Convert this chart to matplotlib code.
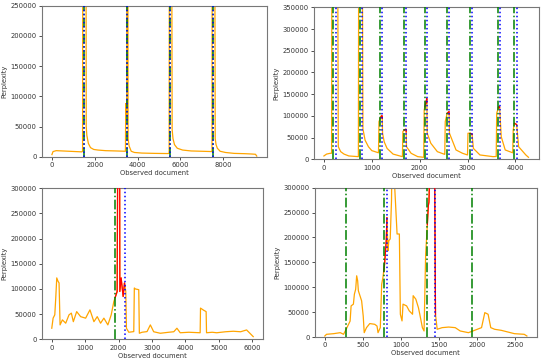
import numpy as np
import matplotlib
matplotlib.use("Agg")
import matplotlib.pyplot as plt

W, H = 544, 362

# ---------------- data ----------------
# Top-left
tl_x = [0, 50, 200, 500, 800, 1100, 1400, 1430, 1440, 1590, 1600, 1630, 1700, 1800, 1950, 2150, 2500, 3000, 3430,
        3445, 3470, 3490, 3500, 3545, 3555, 3600, 3700, 3850, 4200, 4800, 5400, 5470,
        5480, 5590, 5610, 5650, 5720, 5850, 6100, 6500, 7000, 7470,
        7480, 7600, 7620, 7660, 7720, 7850, 8100, 8500, 9000, 9300, 9500, 9560]
tl_y = [3500, 8500, 10000, 9500, 9000, 8500, 8000, 9000, 400000, 400000, 50000, 35000, 22000, 15000, 12000, 11000, 10000, 9500, 9000,
        88000, 75000, 70000, 400000, 400000, 30000, 18000, 9000, 7000, 6000, 5500, 5200, 5500,
        400000, 400000, 45000, 30000, 20000, 14000, 11000, 9500, 9000, 8500,
        400000, 400000, 30000, 20000, 14000, 9000, 7000, 5500, 5000, 4500, 4000, 1000]
tl_green = [1500, 3500, 5500, 7500]
tl_blue = [1500, 3500, 5500, 7500]

# Top-right
tr_x = [0, 55, 130, 160, 165, 290, 300, 350, 420, 520, 720, 725, 805, 815, 860, 930, 1000, 1140,
        1150, 1200, 1218, 1225, 1260, 1320, 1445, 1640,
        1650, 1700, 1718, 1725, 1822, 1960, 2085,
        2095, 2110, 2150, 2158, 2233, 2370, 2507, 2525,
        2535, 2575, 2615, 2623, 2760, 2897, 3000,
        3010, 3055, 3095, 3123, 3260, 3534, 3600,
        3610, 3650, 3670, 3705, 3788, 3945,
        3955, 3980, 4027, 4068, 4219, 4274]
tr_y = [7700, 12000, 13800, 14000, 400000, 400000, 29000, 17600, 12000, 7700, 6100, 400000, 400000, 70000, 44000, 29000, 20000, 15000,
        86700, 100000, 100000, 60000, 40000, 25000, 12000, 6100,
        64000, 69000, 69000, 29000, 13800, 6100, 4600,
        113600, 121000, 140000, 60000, 37000, 17600, 12000, 11500,
        86700, 106000, 110000, 60000, 21500, 13800, 10000,
        60000, 60000, 58000, 25000, 10000, 6100, 6500,
        106000, 121000, 121000, 52000, 21500, 15000,
        67500, 83000, 80000, 29000, 10000, 4600]
tr_green = [199, 760, 1178, 1678, 2110, 2575, 3055, 3644, 3979]
tr_blue = [247, 795, 1219, 1719, 2151, 2616, 3096, 3671, 4027]

# Bottom-left
bl_x = [0, 40, 90, 119, 149, 189, 218, 248, 318, 417, 516, 586, 645, 745, 864, 1013, 1142, 1261, 1360, 1460,
        1559, 1678, 1778, 1857, 1956, 1975, 2030, 2036, 2075, 2135, 2175, 2214, 2234, 2304, 2453,
        2470, 2502, 2602, 2620, 2700, 2850, 2949, 3049, 3247, 3500, 3650, 3744, 3843, 4100, 4439,
        4450, 4538, 4618, 4630, 4800, 4935, 5200, 5432, 5650, 5829, 6027]
bl_y = [22000, 42000, 48600, 82000, 122000, 115000, 112000, 28600, 38600, 32000, 48600, 52000, 35000, 55000, 45000, 42000, 58500, 35000, 45000, 32000,
        42000, 28600, 48600, 75000, 95000, 400000, 400000, 95000, 122000, 85000, 112000, 95000, 22000, 14000, 15300,
        102000, 100000, 98600, 12000, 14000, 15300, 28600, 15000, 12000, 14000, 15000, 22000, 13000, 14000, 13000,
        62000, 58000, 55000, 13000, 14000, 13000, 15000, 16000, 15000, 18600, 5300]
bl_green = [1900]
bl_blue = [2190]

# Bottom-right
br_x = [0, 22, 116, 203, 246, 280, 332, 345, 375, 388, 405, 418, 431, 440, 461, 483, 504, 517, 547, 590, 655,
        685, 698, 728, 746, 763, 784, 806, 815, 828, 840, 858, 875, 884, 927, 948, 978, 991, 1013, 1026, 1073,
        1108, 1151, 1159, 1194, 1228, 1246, 1280, 1302, 1323, 1341, 1358, 1366, 1388, 1438, 1452, 1474, 1539,
        1625, 1711, 1776, 1884, 2056, 2099, 2142, 2177, 2228, 2315, 2487, 2616, 2651]
br_y = [2000, 5400, 6700, 8700, 5400, 15500, 32000, 62500, 66000, 86000, 96000, 123000, 113000, 93000, 83000, 72600, 42000, 8700, 18800, 27000, 25500,
        22000, 8700, 18800, 106000, 120000, 146600, 193700, 240000, 173000, 193700, 197000, 274000, 400000, 271000, 207000, 207000, 45700, 32300, 66000, 62500,
        52500, 45700, 83000, 76000, 59000, 45700, 18800, 12100, 166700, 213800, 264000, 271000, 400000, 400000, 45700, 15500, 18800,
        20000, 18800, 12100, 8700, 18800, 49000, 45700, 18800, 15500, 13400, 6700, 5400, 2000]
br_green = [280, 772, 1345, 1927]
br_blue = [815, 1452]

# ---------------- drawing ----------------
plt.rcParams['font.family'] = ['DejaVu Sans']
fig = plt.figure(figsize=(W / 100, H / 100), dpi=100)

TEXT = '#333333'
SPINE = '#777777'
FS = 4.9


def make_ax(l, r, t, b):
    ax = fig.add_axes([l / W, 1 - b / H, (r - l) / W, (b - t) / H])
    for s in ax.spines.values():
        s.set_color(SPINE)
        s.set_linewidth(0.8)
    ax.tick_params(labelsize=FS, length=2.2, width=0.6, pad=1.6, colors=TEXT)
    return ax


def panel(ax, x, y, green, blue, ymax):
    x = np.asarray(x, float)
    y = np.asarray(y, float)
    ax.plot(x, y, color='orange', lw=0.9, zorder=2)
    # red segment between each detection and the closest preceding true change point
    for bb in blue:
        prev = [g for g in green if g <= bb]
        if not prev:
            continue
        lo, hi = max(prev), bb
        if hi - lo <= 0:
            continue
        m = (x > lo) & (x < hi)
        xs = np.concatenate([[lo], x[m], [hi]])
        ys = np.interp(xs, x, y)
        ax.plot(xs, ys, color='red', lw=0.9, zorder=3)
    for g in green:
        ax.axvline(g, color='green', ls='-.', lw=1.1, zorder=4)
    for bb in blue:
        ax.axvline(bb, color='blue', ls=':', lw=1.1, zorder=5)
    ax.set_ylim(0, ymax)
    ax.set_xlabel('Observed document', fontsize=FS, color=TEXT, labelpad=1.5)
    ax.set_ylabel('Perplexity', fontsize=FS, color=TEXT, labelpad=1.8)


ax1 = make_ax(41.7, 267, 5.7, 156.7)
panel(ax1, tl_x, tl_y, tl_green, tl_blue, 250000)
ax1.set_xticks([0, 2000, 4000, 6000, 8000])

ax2 = make_ax(313.7, 538.7, 7.3, 159.3)
panel(ax2, tr_x, tr_y, tr_green, tr_blue, 350000)
ax2.set_xticks([0, 1000, 2000, 3000, 4000])

ax3 = make_ax(41.7, 263.3, 188.3, 339.3)
panel(ax3, bl_x, bl_y, bl_green, bl_blue, 300000)
ax3.set_xticks([0, 1000, 2000, 3000, 4000, 5000, 6000])

ax4 = make_ax(314.7, 537, 187.7, 337)
panel(ax4, br_x, br_y, br_green, br_blue, 300000)
ax4.set_xticks([0, 500, 1000, 1500, 2000, 2500])

fig.savefig('out.png', dpi=100)
